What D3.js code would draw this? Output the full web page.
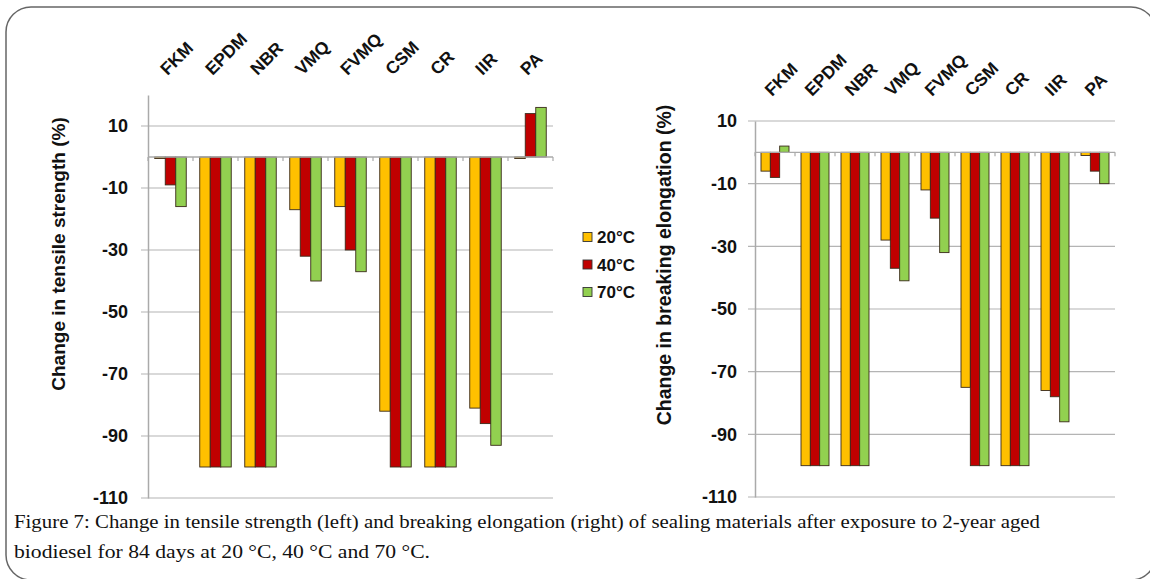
<!DOCTYPE html>
<html>
<head>
<meta charset="utf-8">
<script src="https://cdn.jsdelivr.net/npm/d3@7"></script>
<style>
  html, body { margin: 0; padding: 0; background: #fff; }
  svg { display: block; }
</style>
</head>
<body>
<svg id="chart" width="1150" height="579"></svg>
<script>
// ---------- DATA ----------
const categories = ["FKM", "EPDM", "NBR", "VMQ", "FVMQ", "CSM", "CR", "IIR", "PA"];
const seriesNames = ["20°C", "40°C", "70°C"];
// Change in tensile strength (%)
const tensile20 = [-0.5, -100, -100, -17, -16, -82, -100, -81, -0.5];
const tensile40 = [-9, -100, -100, -32, -30, -100, -100, -86, 14];
const tensile70 = [-16, -100, -100, -40, -37, -100, -100, -93, 16];
// Change in breaking elongation (%)
const elong20 = [-6, -100, -100, -28, -12, -75, -100, -76, -1];
const elong40 = [-8, -100, -100, -37, -21, -100, -100, -78, -6];
const elong70 = [2, -100, -100, -41, -32, -100, -100, -86, -10];
const yTickValues = [10, -10, -30, -50, -70, -90, -110];
const leftTitle = "Change in tensile strength (%)";
const rightTitle = "Change in breaking elongation (%)";
const captionLines = [
  "Figure 7: Change in tensile strength (left) and breaking elongation (right) of sealing materials after exposure to 2-year aged",
  "biodiesel for 84 days at 20 °C, 40 °C and 70 °C."
];

// ---------- STYLE ----------
const colors = ["#FFC000", "#C00000", "#92D050"];
const sans = "'Liberation Sans', Arial, sans-serif";
const serif = "'Liberation Serif', 'Times New Roman', serif";

const svg = d3.select("#chart");

// frame
svg.append("rect")
  .attr("x", 6).attr("y", 7).attr("width", 1150).attr("height", 573)
  .attr("rx", 25).attr("ry", 25)
  .attr("fill", "none").attr("stroke", "#666").attr("stroke-width", 1.5);

function drawPanel(cfg) {
  const g = svg.append("g");
  const x = d3.scaleBand().domain(categories)
    .range([cfg.x0, cfg.x1]).paddingInner(0.3).paddingOuter(0.15);
  const xs = d3.scaleBand().domain(seriesNames).range([0, x.bandwidth()]);
  const y = d3.scaleLinear().domain([-110, cfg.yMax]).range([cfg.yBottom, cfg.yTop]);

  // gridlines
  g.append("g").selectAll("line").data(yTickValues).join("line")
    .attr("x1", cfg.x0 - 7).attr("x2", cfg.x1)
    .attr("y1", d => y(d)).attr("y2", d => y(d))
    .attr("stroke", "#b4b4b4").attr("stroke-width", 1.2);

  // y axis
  const yAxis = d3.axisLeft(y).tickValues(yTickValues).tickSize(0).tickPadding(cfg.tickPad)
    .tickFormat(d => String(d));
  const ya = g.append("g").attr("transform", `translate(${cfg.x0},0)`).call(yAxis);
  ya.select(".domain").attr("stroke", "#aaa").attr("stroke-width", 1.5);
  ya.selectAll("text").attr("font-family", sans).attr("font-weight", "bold")
    .attr("font-size", 18).attr("fill", "#111");

  // bars
  g.append("g").selectAll("g").data(cfg.series).join("g")
    .attr("fill", (d, i) => colors[i])
    .selectAll("rect").data((d, i) => d.map((v, j) => ({ v, c: categories[j], s: seriesNames[i] })))
    .join("rect")
    .attr("x", d => x(d.c) + xs(d.s))
    .attr("width", xs.bandwidth())
    .attr("y", d => y(Math.max(0, d.v)))
    .attr("height", d => Math.abs(y(d.v) - y(0)))
    .attr("stroke", "#3a2a1a").attr("stroke-width", 0.9);

  // zero (category) axis with boundary ticks
  g.append("line").attr("x1", cfg.x0).attr("x2", cfg.x1)
    .attr("y1", y(0)).attr("y2", y(0)).attr("stroke", "#aaa").attr("stroke-width", 1.3);
  const bounds = d3.range(categories.length + 1).map(i => cfg.x0 + i * x.step());
  g.append("g").selectAll("line").data(bounds).join("line")
    .attr("x1", d => d).attr("x2", d => d)
    .attr("y1", y(0)).attr("y2", y(0) + 4)
    .attr("stroke", "#aaa").attr("stroke-width", 1.2);

  // category labels (rotated, at top)
  g.append("g").selectAll("text").data(categories).join("text")
    .attr("transform", d => `translate(${x(d) + x.bandwidth() / 2 - 3},${cfg.labelY}) rotate(-45)`)
    .attr("font-family", sans).attr("font-weight", "bold").attr("font-size", 17.5)
    .attr("fill", "#111")
    .text(d => d);

  // y title
  g.append("text")
    .attr("transform", `translate(${cfg.titleX},${cfg.titleY}) rotate(-90)`)
    .attr("text-anchor", "middle")
    .attr("font-family", sans).attr("font-weight", "bold").attr("font-size", cfg.titleSize)
    .attr("fill", "#111")
    .text(cfg.title);
}

drawPanel({
  x0: 148, x1: 553, yTop: 95, yBottom: 498, yMax: 20, tickPad: 20,
  series: [tensile20, tensile40, tensile70],
  labelY: 76, title: leftTitle, titleX: 65, titleY: 254, titleSize: 19
});
drawPanel({
  x0: 755, x1: 1115, yTop: 121, yBottom: 497, yMax: 10, tickPad: 18,
  series: [elong20, elong40, elong70],
  labelY: 97, title: rightTitle, titleX: 671, titleY: 265, titleSize: 19.5
});

// legend
const legend = svg.append("g");
const lg = legend.selectAll("g").data(seriesNames).join("g")
  .attr("transform", (d, i) => `translate(583,${237 + i * 27.5})`);
lg.append("rect").attr("x", 0).attr("y", -4.5).attr("width", 9).attr("height", 9)
  .attr("fill", (d, i) => colors[i]).attr("stroke", "#333").attr("stroke-width", 0.9);
lg.append("text").attr("x", 14).attr("y", 6)
  .attr("font-family", sans).attr("font-weight", "bold").attr("font-size", 17)
  .attr("fill", "#111").text(d => d);

// caption
svg.append("g").selectAll("text").data(captionLines).join("text")
  .attr("x", 14).attr("y", (d, i) => 528 + i * 30)
  .attr("font-family", serif).attr("font-size", 19).attr("fill", "#111")
  .text(d => d)
  .each(function (d, i) {
    d3.select(this)
      .attr("textLength", i === 0 ? 1026 : 416)
      .attr("lengthAdjust", "spacingAndGlyphs");
  });
</script>
</body>
</html>
